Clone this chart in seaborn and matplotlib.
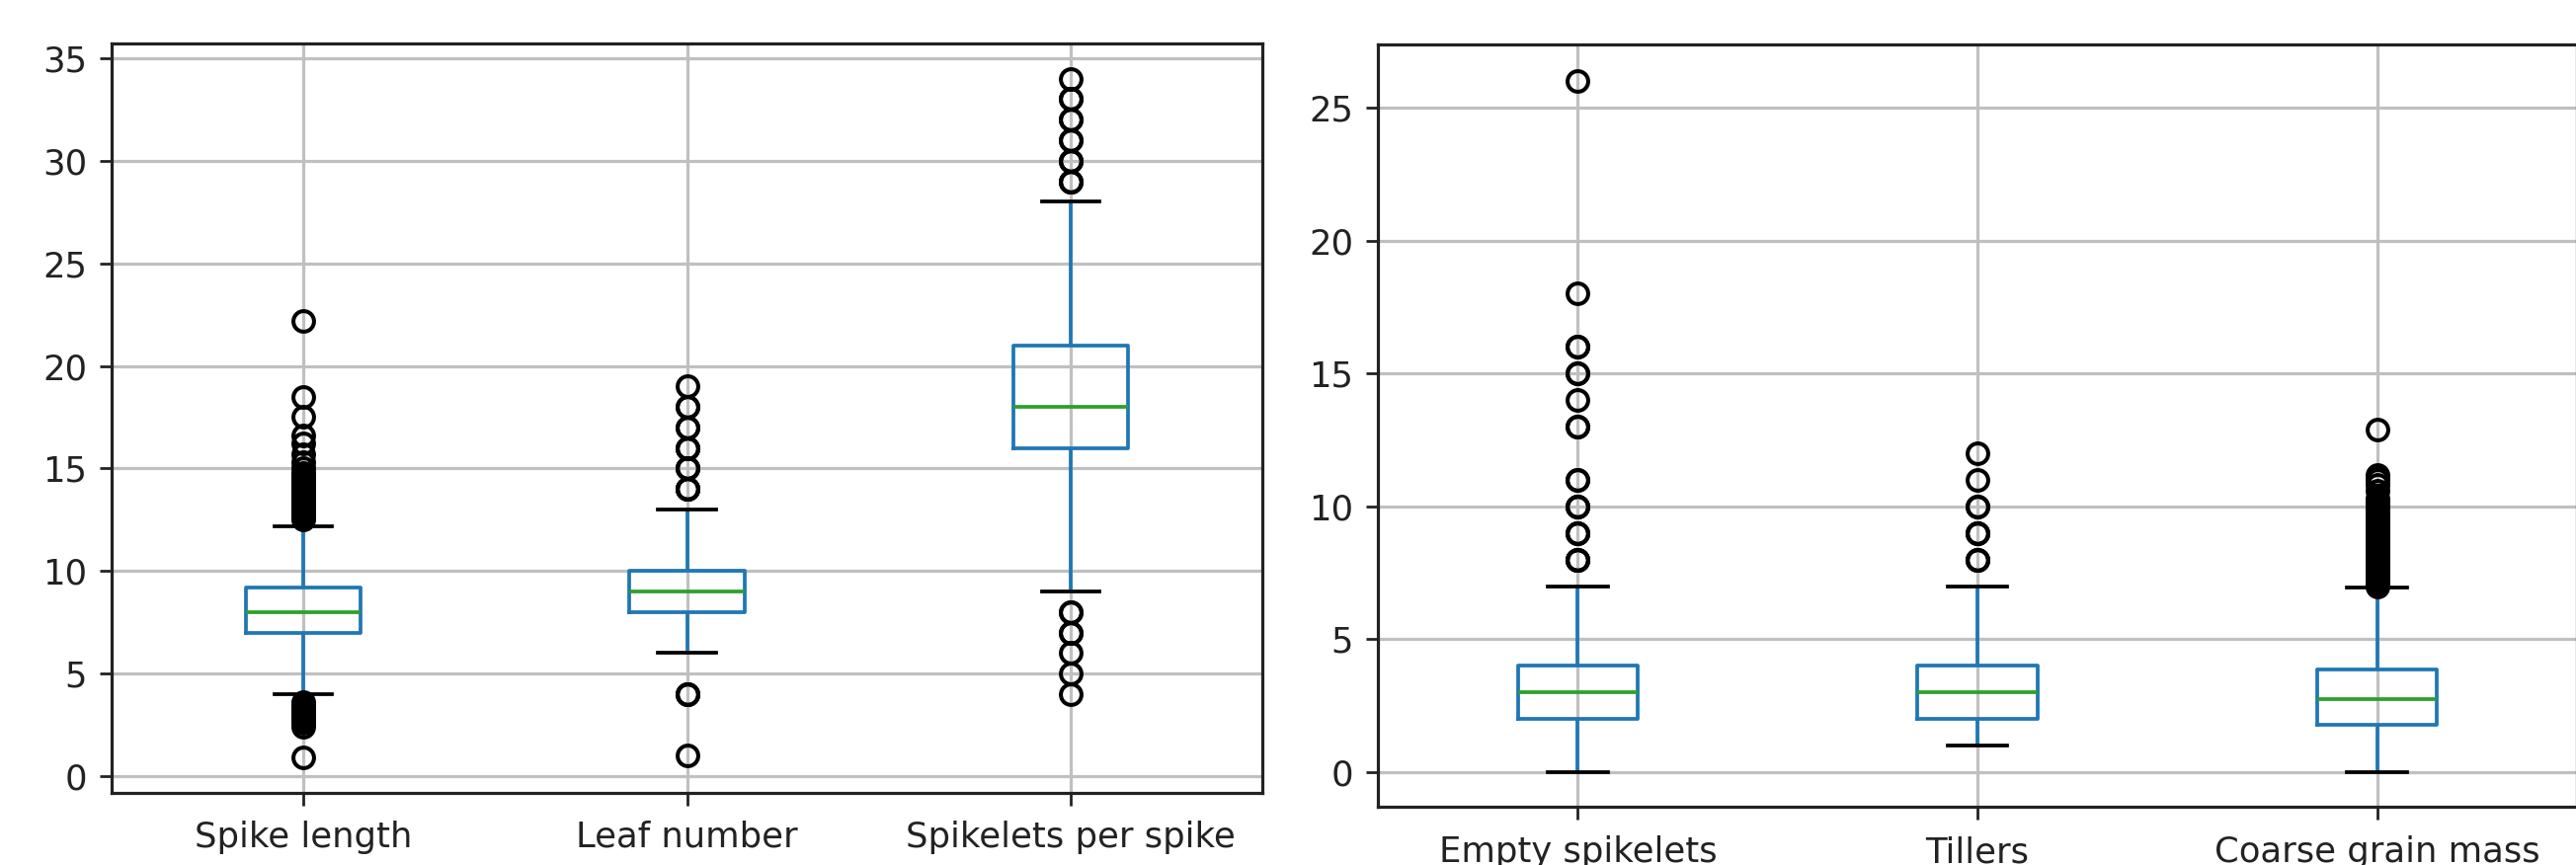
import matplotlib
matplotlib.use("Agg")
import matplotlib.pyplot as plt
import seaborn as sns
import numpy as np
import pandas as pd

# ---------------- left panel ----------------
left_names = ["Spike length", "Leaf number", "Spikelets per spike"]

spike_length_values = [4.0, 5.0, 6.0, 6.96, 7.5, 8.0, 8.6, 9.17, 10.0, 11.0, 12.18]
spike_length_counts = [4, 21, 52, 70, 55, 70, 55, 70, 40, 15, 3]
spike_length_outliers = [0.9, 2.4, 2.6, 2.7, 2.8, 2.9, 3.0, 3.1, 3.2, 3.3, 3.4, 3.5, 3.6,
                         12.5, 12.6, 12.7, 12.8, 12.9, 13.0, 13.1, 13.2, 13.3, 13.4, 13.5, 13.6,
                         13.7, 13.8, 13.9, 14.0, 14.1, 14.2, 14.3, 14.4, 14.5, 14.6, 14.7, 14.8,
                         15.0, 15.3, 15.7, 16.2, 16.6, 17.5, 18.5, 22.2]

leaf_number_values = [1, 4, 6, 7, 8, 9, 10, 11, 12, 13, 14, 15, 16, 17, 18, 19]
leaf_number_counts = [1, 3, 20, 66, 100, 120, 100, 45, 20, 10, 4, 3, 3, 2, 2, 1]
leaf_number_outliers = []

spikelets_values = [4, 5, 6, 7, 8, 9, 10, 11, 12, 13, 14, 15, 16, 17, 18, 19, 20, 21,
                    22, 23, 24, 25, 26, 27, 28, 29, 30, 31, 32, 33, 34]
spikelets_counts = [1, 1, 1, 2, 2, 2, 3, 5, 8, 15, 22, 28, 70, 55, 70, 30, 25, 70,
                    20, 16, 13, 10, 8, 6, 4, 3, 3, 2, 2, 2, 1]
spikelets_outliers = []

left_ylim = (-0.82, 35.72)
left_yticks = [0, 5, 10, 15, 20, 25, 30, 35]

# ---------------- right panel ----------------
right_names = ["Empty spikelets", "Tillers", "Coarse grain mass"]

empty_values = [0, 1, 2, 3, 4, 5, 6, 7, 8, 9, 10, 11, 13, 14, 15, 16, 18, 26]
empty_counts = [30, 60, 100, 120, 100, 40, 20, 10, 4, 3, 3, 2, 2, 1, 2, 2, 1, 1]
empty_outliers = []

tillers_values = [1, 2, 3, 4, 5, 6, 7, 8, 9, 10, 11, 12]
tillers_counts = [90, 100, 120, 100, 40, 20, 12, 3, 3, 2, 1, 1]
tillers_outliers = []

coarse_values = [0.0, 0.5, 1.0, 1.4, 1.8, 2.3, 2.75, 3.3, 3.87, 4.5, 5.2, 6.0, 6.5, 6.95]
coarse_counts = [3, 10, 27, 50, 70, 55, 70, 55, 70, 25, 15, 8, 4, 2]
coarse_outliers = [7.0, 7.1, 7.2, 7.3, 7.4, 7.5, 7.6, 7.7, 7.8, 7.9, 8.0, 8.1, 8.2, 8.3,
                   8.4, 8.5, 8.6, 8.7, 8.8, 8.9, 9.0, 9.1, 9.2, 9.3, 9.4, 9.5, 9.6, 9.7,
                   9.8, 9.9, 10.0, 10.1, 10.2, 10.3, 10.6, 10.8, 11.0, 11.1, 11.2, 12.9]

right_ylim = (-1.3, 27.38)
right_yticks = [0, 5, 10, 15, 20, 25]


def build(values, counts, outliers):
    return np.concatenate([np.repeat(values, counts), np.asarray(outliers, dtype=float)])


def long_df(names, arrays):
    frames = [pd.DataFrame({"variable": n, "value": a}) for n, a in zip(names, arrays)]
    return pd.concat(frames, ignore_index=True)


df_left = long_df(left_names, [
    build(spike_length_values, spike_length_counts, spike_length_outliers),
    build(leaf_number_values, leaf_number_counts, leaf_number_outliers),
    build(spikelets_values, spikelets_counts, spikelets_outliers),
])
df_right = long_df(right_names, [
    build(empty_values, empty_counts, empty_outliers),
    build(tillers_values, tillers_counts, tillers_outliers),
    build(coarse_values, coarse_counts, coarse_outliers),
])

BLUE = "#1f77b4"
GREEN = "#2ca02c"
LW = 2.7


def draw(ax, df, names, ylim, yticks, xpad):
    sns.boxplot(data=df, x="variable", y="value", order=names, ax=ax,
                width=0.3, fill=False, color=BLUE, linewidth=LW, whis=1.5,
                boxprops=dict(color=BLUE, linewidth=LW),
                whiskerprops=dict(color=BLUE, linewidth=LW),
                medianprops=dict(color=GREEN, linewidth=LW),
                capprops=dict(color="black", linewidth=LW),
                flierprops=dict(marker="o", markerfacecolor="none", markeredgecolor="black",
                                markersize=15, markeredgewidth=2.9))
    ax.set_xlabel("")
    ax.set_ylabel("")
    ax.set_xlim(-0.5, 2.5)
    ax.set_ylim(*ylim)
    ax.set_yticks(yticks)
    ax.grid(True, axis="both", color="#c0c0c0", linewidth=2.3)
    for s in ax.spines.values():
        s.set_visible(True)
        s.set_color("#222222")
        s.set_linewidth(2.3)
    ax.tick_params(axis="both", length=9, width=2, labelsize=25.5,
                   color="#222222", labelcolor="#222222")
    ax.tick_params(axis="y", pad=9)
    ax.tick_params(axis="x", pad=xpad)


fig = plt.figure(figsize=(26.08, 8.76), dpi=100)
ax1 = fig.add_axes([113 / 2608, 73 / 876, 1165 / 2608, 759 / 876])
ax2 = fig.add_axes([1395 / 2608, 59 / 876, 1214 / 2608, 772 / 876])

draw(ax1, df_left, left_names, left_ylim, left_yticks, 11)
draw(ax2, df_right, right_names, right_ylim, right_yticks, 12)

fig.savefig("out.png", dpi=100)
